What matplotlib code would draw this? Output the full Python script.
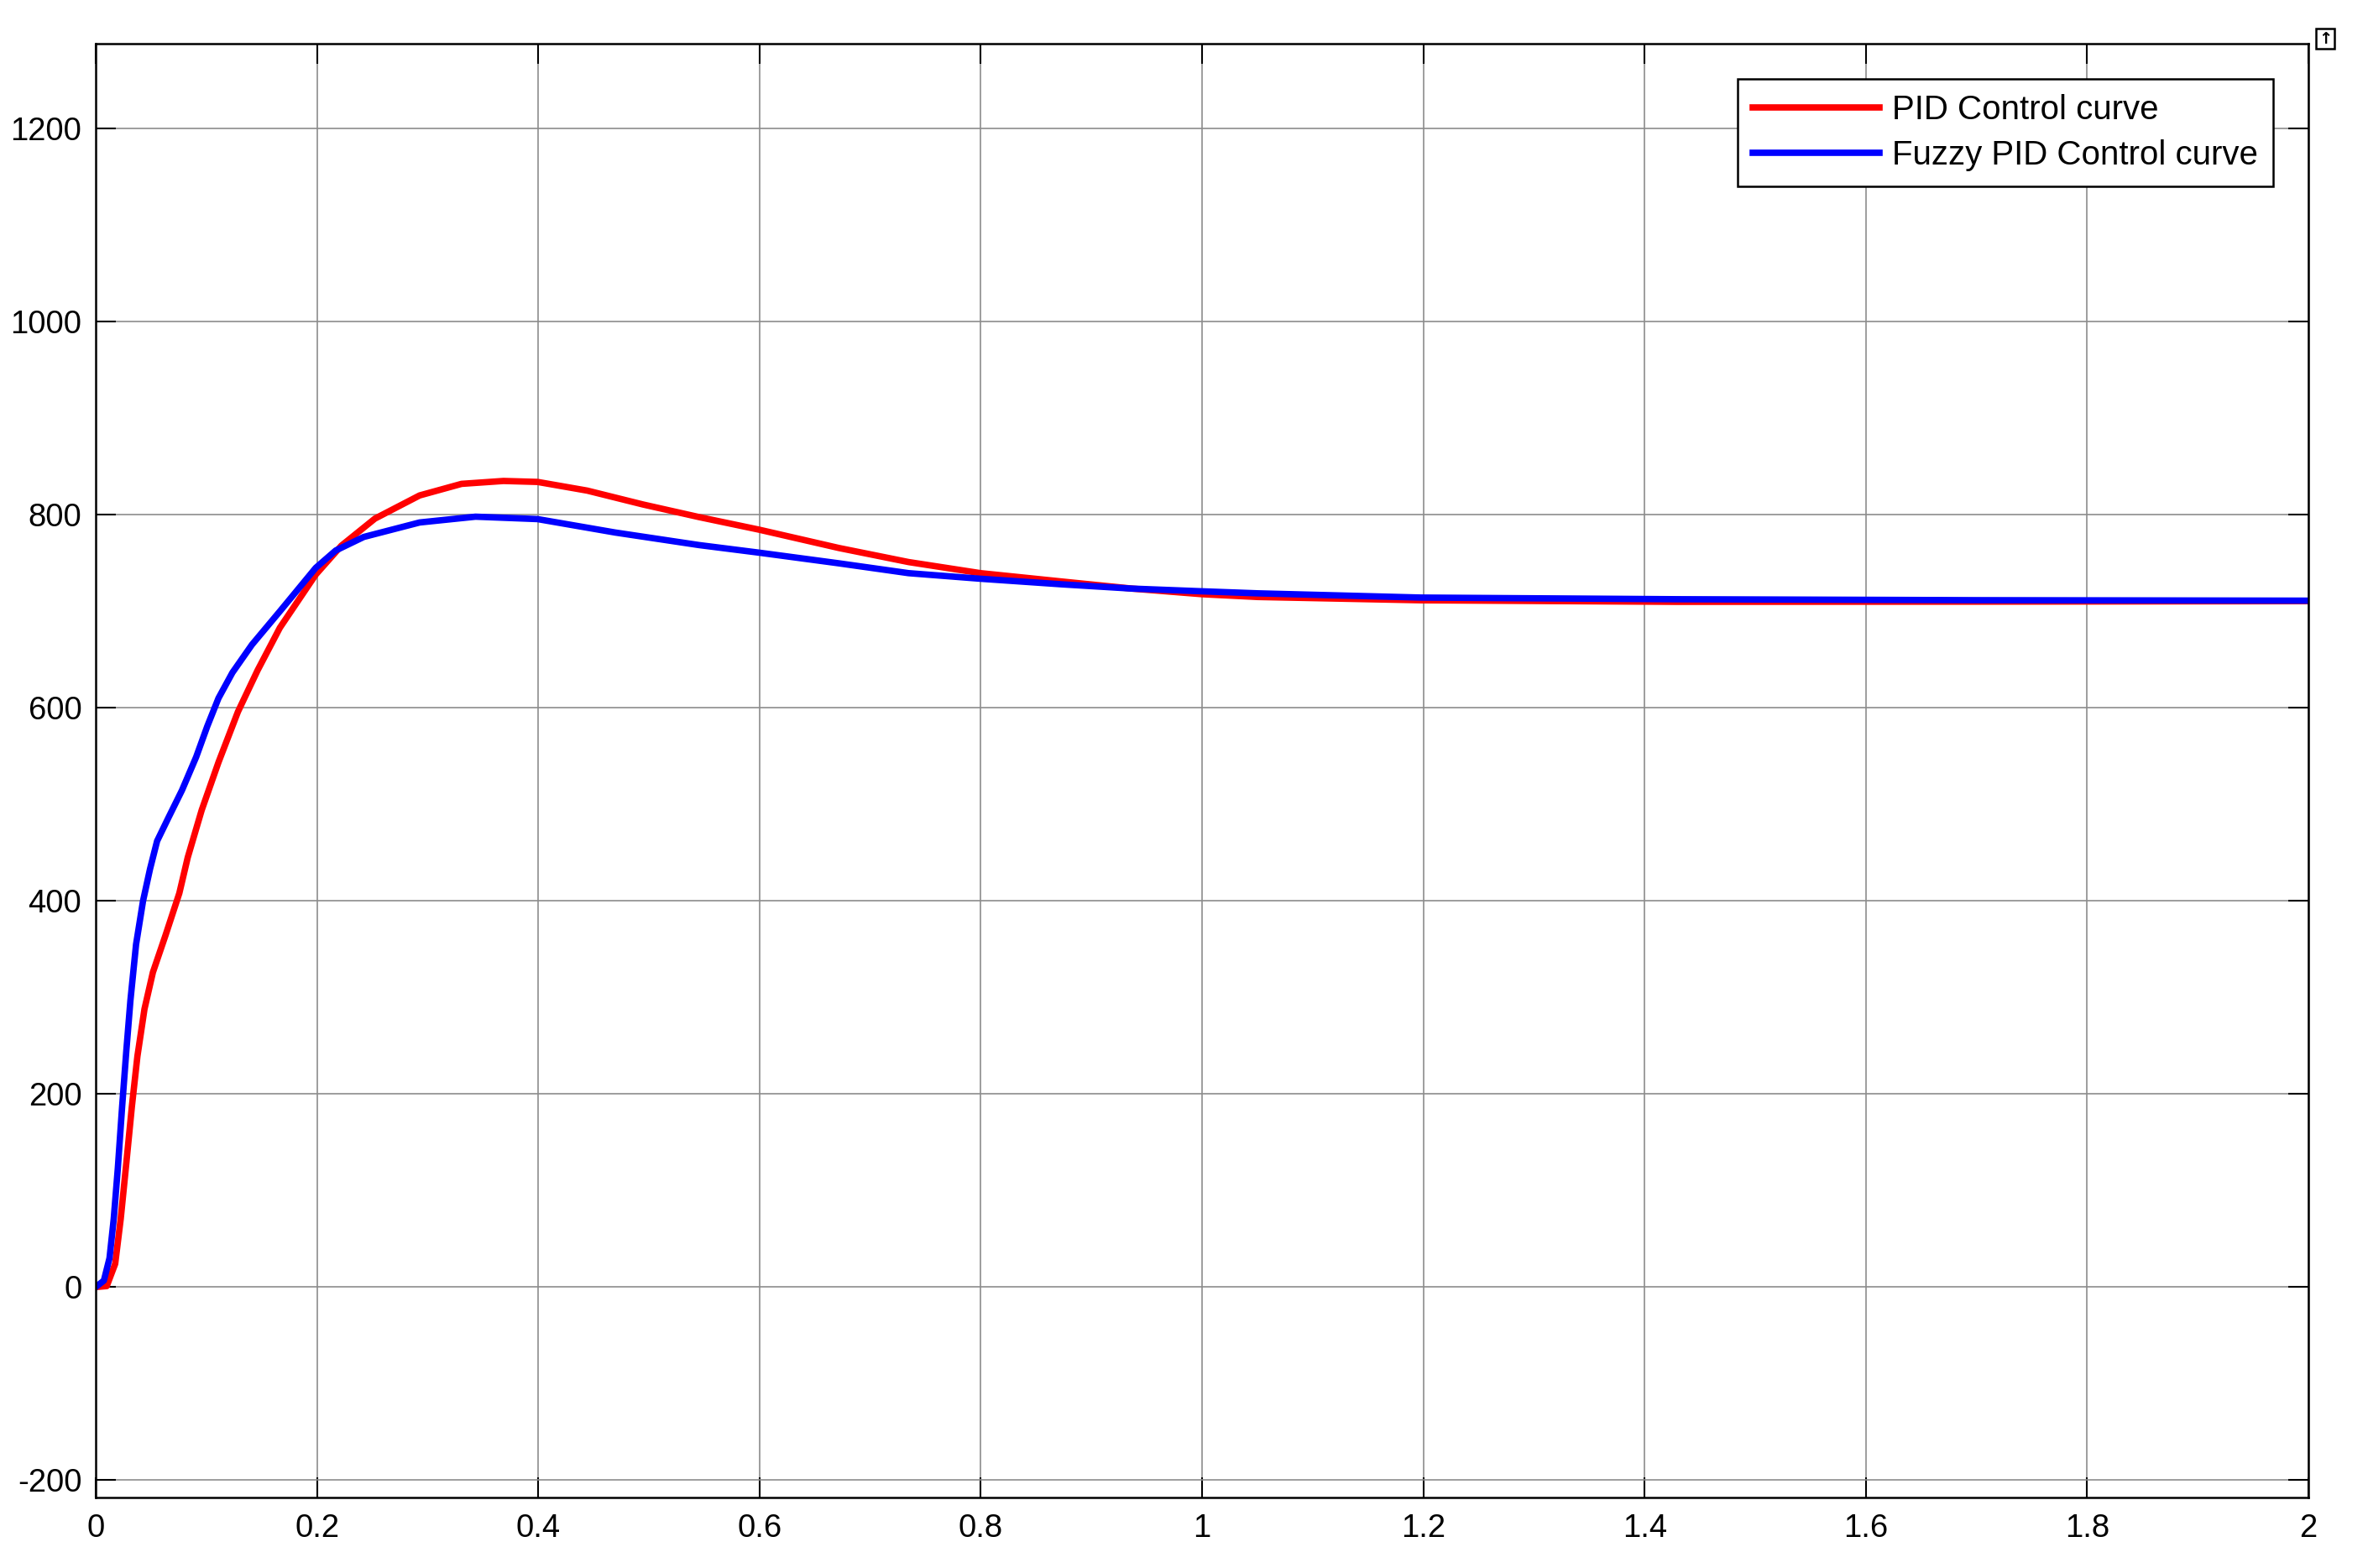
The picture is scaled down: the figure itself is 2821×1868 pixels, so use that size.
import matplotlib
matplotlib.use("Agg")
import matplotlib.pyplot as plt

plt.rcParams['font.family'] = ['Liberation Sans', 'DejaVu Sans']
plt.rcParams['axes.unicode_minus'] = False

# time (s) and response values
pid_t = [0.0, 0.010, 0.0176, 0.0226, 0.0277, 0.0327, 0.0377, 0.0441, 0.0517, 0.063,
         0.0756, 0.0832, 0.0958, 0.111, 0.1286, 0.1464, 0.1665, 0.1989, 0.2221, 0.2524,
         0.2928, 0.3307, 0.3686, 0.3994, 0.4443, 0.4948, 0.5453, 0.5998, 0.6716, 0.7347,
         0.7998, 0.8736, 0.9367, 1.0, 1.0504, 1.198, 1.429, 1.7, 2.0]
pid_y = [0, 1, 24, 70.5, 128.6, 187, 239, 288, 326, 364,
         408, 445, 494, 543.6, 596, 639, 683, 738, 768, 796,
         820, 832, 835, 834, 825, 810.6, 797.6, 784.5, 765.6, 751,
         739.5, 730.8, 723.5, 717.7, 714.8, 711.4, 709.8, 710, 710.5]

fuzzy_t = [0.0, 0.0074, 0.0125, 0.0163, 0.020, 0.0239, 0.0277, 0.0314, 0.0365, 0.0428,
           0.0491, 0.0555, 0.0655, 0.078, 0.0908, 0.1009, 0.111, 0.1236, 0.1413, 0.1665,
           0.1989, 0.217, 0.2423, 0.2928, 0.3433, 0.3994, 0.4695, 0.5453, 0.5998, 0.6716,
           0.7347, 0.7998, 0.8736, 0.9367, 1.0, 1.0504, 1.198, 1.429, 1.7, 2.0]
fuzzy_y = [0, 6.7, 30, 70.5, 123, 187, 245, 297, 355, 400,
           433, 462, 485.6, 514.6, 549, 581, 610, 636.5, 665.5, 700,
           745, 763, 777, 792, 798, 795.5, 781.6, 768.6, 760.7, 749.7,
           739.5, 733.7, 727.9, 723.5, 720.7, 718.6, 714.2, 712.5, 711.5, 711]

x_ticks = [0, 0.2, 0.4, 0.6, 0.8, 1, 1.2, 1.4, 1.6, 1.8, 2]
x_labels = ['0', '0.2', '0.4', '0.6', '0.8', '1', '1.2', '1.4', '1.6', '1.8', '2']
y_ticks = [-200, 0, 200, 400, 600, 800, 1000, 1200]

fig = plt.figure(figsize=(28.21, 18.68), dpi=100)
ax = fig.add_axes([114 / 2821, 1 - 1784 / 1868, (2750 - 114) / 2821, (1784 - 52) / 1868])

ax.plot(pid_t, pid_y, color='#ff0000', lw=5.5, solid_joinstyle='round', label='PID Control curve')
ax.plot(fuzzy_t, fuzzy_y, color='#0000ff', lw=5.5, solid_joinstyle='round', label='Fuzzy PID Control curve')

ax.set_xlim(0, 2)
ax.set_ylim(-218, 1288)
ax.set_xticks(x_ticks)
ax.set_xticklabels(x_labels)
ax.set_yticks(y_ticks)
ax.grid(True, color='0.55', lw=1.2)
ax.set_axisbelow(True)
ax.tick_params(direction='in', length=17, width=1.5, labelsize=27.5,
               top=True, right=True, colors='black')
ax.tick_params(axis='y', pad=12)
ax.tick_params(axis='x', pad=14)
for s in ax.spines.values():
    s.set_linewidth(1.8)

leg = ax.legend(loc='upper right', bbox_to_anchor=(0.984, 0.9758), borderaxespad=0,
                fontsize=29, handlelength=3.75, handletextpad=0.37, borderpad=0.45,
                labelspacing=0.4, fancybox=False, framealpha=1, edgecolor='black')
leg.get_frame().set_linewidth(1.8)

# small MATLAB-style corner button
fig.text(2770 / 2821, 1 - 46 / 1868, '↑', ha='center', va='center', fontsize=14,
         fontweight='bold', family='DejaVu Sans',
         bbox=dict(boxstyle='square,pad=0.15', fc='white', ec='black', lw=1.8))

fig.savefig('out.png', dpi=100)
